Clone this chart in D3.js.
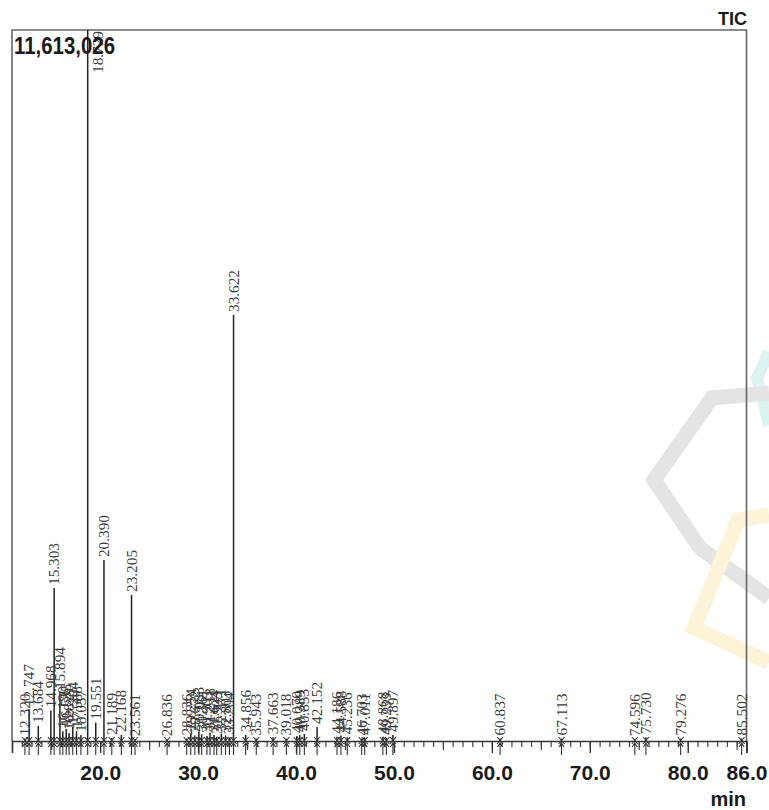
<!DOCTYPE html>
<html>
<head>
  <meta charset="UTF-8">
  <style>
    body { margin: 0; padding: 0; background: #fff; }
    svg { display: block; }
    .ptext { font-family: "Liberation Serif", "Times New Roman", serif; font-size: 14px; fill: #3a3a3a; }
    .btext { font-family: "Liberation Sans Narrow", "Liberation Sans", Arial, sans-serif; font-weight: bold; fill: #1a1a1a; }
  </style>
</head>
<body>
  <svg></svg>
  <script src="https://d3js.org/d3.v7.min.js"></script>
  <script>
    const width = 769, height = 810;

    // peak retention times (min) and heights (counts)
    const peakTimes = [12.320, 12.747, 13.684, 14.968, 15.303, 15.894, 16.190, 16.535, 16.829, 17.204,
        17.588, 18.037, 18.729, 19.551, 20.390, 21.189, 22.168, 23.205, 23.561, 26.836,
        28.836, 29.254, 29.672, 30.083, 30.361, 30.905, 31.218, 31.624, 31.903, 32.371,
        32.803, 33.204, 33.622, 34.856, 35.943, 37.663, 39.018, 40.070, 40.389, 40.853,
        42.152, 44.186, 44.588, 45.236, 46.703, 47.011, 48.868, 49.233, 49.897, 60.837,
        67.113, 74.596, 75.730, 79.276, 85.502];
    const peakHeights = [40000, 520000, 245000, 500000, 2499000, 800000, 160000, 196000, 130000, 230000,
        160000, 100000, 11613026, 300000, 2956000, 50000, 100000, 2385000, 30000, 30000,
        40000, 120000, 90000, 150000, 110000, 80000, 130000, 100000, 70000, 120000,
        90000, 60000, 6958000, 100000, 40000, 60000, 40000, 80000, 100000, 115000,
        230000, 70000, 90000, 60000, 40000, 50000, 70000, 50000, 100000, 40000,
        40000, 30000, 60000, 40000, 40000];

    const majorTicks = [20, 30, 40, 50, 60, 70, 80, 86];
    const majorLabels = ["20.0", "30.0", "40.0", "50.0", "60.0", "70.0", "80.0", "86.0"];
    const maxIntensity = 11613026;

    const svg = d3.select("svg").attr("width", width).attr("height", height);

    const x = d3.scaleLinear().domain([11, 86]).range([12, 746.5]);
    const y = d3.scaleLinear().domain([0, maxIntensity]).range([741, 30]);

    // watermark (decorative)
    const wm = svg.append("g").attr("fill", "none").attr("stroke-linejoin", "miter");
    wm.append("path").attr("d", "M769,352 L757,378 L769,425").attr("stroke", "#dcf3f1").attr("stroke-width", 12);
    wm.append("path").attr("d", "M769,393 L712,398 L654,480 L700,548 L769,598").attr("stroke", "#e4e4e4").attr("stroke-width", 15);
    wm.append("path").attr("d", "M769,515 L738,520 L694,628 L769,662").attr("stroke", "#fcf3d8").attr("stroke-width", 15);

    // frame
    svg.append("path")
        .attr("d", `M${x(11)},${y(0)} V${y(maxIntensity)} H${x(86)} V${y(0)}`)
        .attr("fill", "none").attr("stroke", "#666").attr("stroke-width", 1.6);

    // minor ticks
    svg.append("g")
        .attr("transform", `translate(0,${y(0)})`)
        .call(d3.axisBottom(x).tickValues(d3.range(11, 87)).tickSize(6).tickFormat(""))
        .call(g => g.select(".domain").remove())
        .call(g => g.selectAll("line").attr("stroke", "#444").attr("stroke-width", 1.2));
    svg.append("g")
        .attr("transform", `translate(0,${y(0)})`)
        .call(d3.axisBottom(x).tickValues(d3.range(15, 86, 10)).tickSize(9).tickFormat(""))
        .call(g => g.select(".domain").remove())
        .call(g => g.selectAll("line").attr("stroke", "#444").attr("stroke-width", 1.2));

    // major ticks with labels
    const ax = svg.append("g")
        .attr("transform", `translate(0,${y(0)})`)
        .call(d3.axisBottom(x).tickValues(majorTicks).tickSize(12).tickPadding(12)
            .tickFormat((d, i) => majorLabels[i]));
    ax.select(".domain").attr("stroke", "#333").attr("stroke-width", 1.6);
    ax.selectAll("line").attr("stroke", "#333").attr("stroke-width", 1.4);
    ax.selectAll("text").attr("class", "btext").attr("font-size", 21).attr("font-family", null);

    // peak lines
    const peaks = peakTimes.map((t, i) => ({ t, h: peakHeights[i] }));
    svg.append("g").selectAll("line")
        .data(peaks)
        .join("line")
        .attr("x1", d => x(d.t)).attr("x2", d => x(d.t))
        .attr("y1", y(0)).attr("y2", d => y(d.h))
        .attr("stroke", "#222").attr("stroke-width", 1.5);

    // peak markers: X at baseline, arrow below
    const mk = svg.append("g").attr("stroke", "#333").attr("stroke-width", 1.1).attr("fill", "none");
    mk.selectAll("path.x")
        .data(peaks)
        .join("path")
        .attr("class", "x")
        .attr("d", d => { const px = x(d.t), py = y(0); return `M${px - 3},${py - 4} L${px + 3},${py + 3} M${px + 3},${py - 4} L${px - 3},${py + 3}`; });
    mk.selectAll("path.a")
        .data(peaks)
        .join("path")
        .attr("class", "a")
        .attr("d", d => { const px = x(d.t), py = y(0); return `M${px},${py + 2} V${py + 14} M${px - 2.5},${py + 6} L${px},${py + 2} L${px + 2.5},${py + 6}`; });

    // peak labels
    const labelLen = 42;
    svg.append("g").selectAll("text")
        .data(peaks)
        .join("text")
        .attr("class", "ptext")
        .attr("textLength", labelLen)
        .attr("lengthAdjust", "spacingAndGlyphs")
        .attr("text-anchor", d => (y(d.h) - 3 - labelLen < y(maxIntensity)) ? "end" : "start")
        .attr("transform", d => {
            const top = y(d.h);
            if (top - 3 - labelLen < y(maxIntensity)) return `translate(${x(d.t) + 15},${y(maxIntensity) + 1}) rotate(-90)`;
            return `translate(${x(d.t) + 5},${top - 3}) rotate(-90)`;
        })
        .text(d => d3.format(".3f")(d.t));

    // header texts
    svg.append("text").attr("class", "btext").attr("x", 14).attr("y", 54)
        .attr("font-size", 23).attr("textLength", 101).attr("lengthAdjust", "spacingAndGlyphs")
        .text(d3.format(",")(maxIntensity));
    svg.append("text").attr("class", "btext").attr("x", 747).attr("y", 25)
        .attr("text-anchor", "end").attr("font-size", 18).text("TIC");
    svg.append("text").attr("class", "btext").attr("x", 746).attr("y", 806)
        .attr("text-anchor", "end").attr("font-size", 20).text("min");
  </script>
</body>
</html>
